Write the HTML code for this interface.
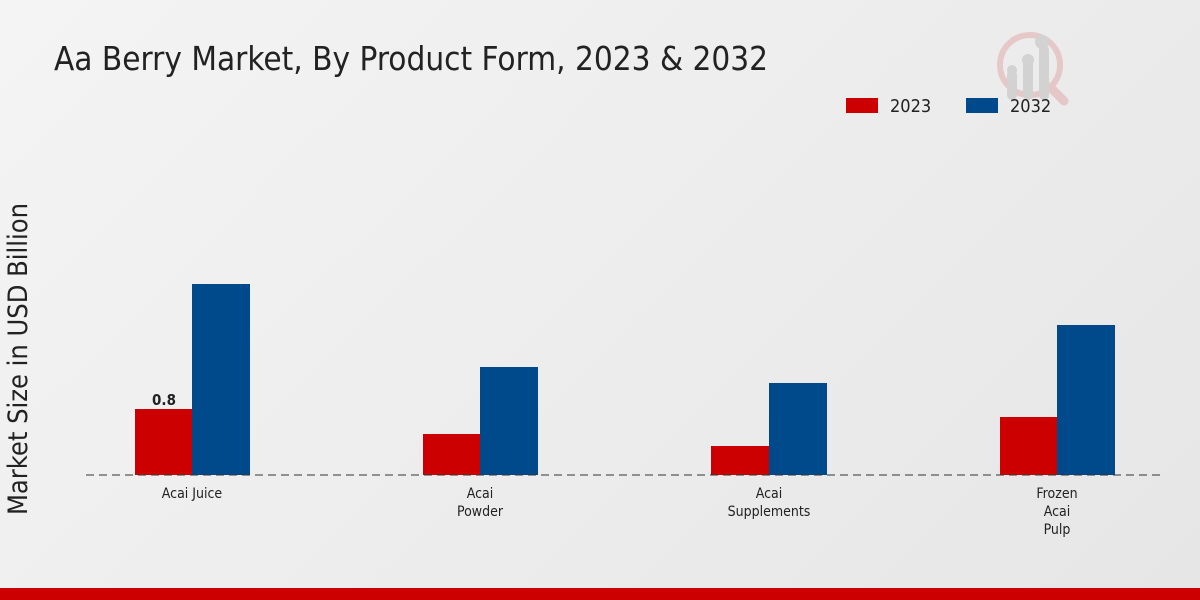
<!DOCTYPE html>
<html><head><meta charset="utf-8"><style>
html,body{margin:0;padding:0;}
body{width:1200px;height:600px;overflow:hidden;background:linear-gradient(135deg,#f4f4f4 0%,#e6e6e6 100%);font-family:"DejaVu Sans Condensed","DejaVu Sans","Liberation Sans",sans-serif;}
</style></head><body>
<svg width="1200" height="600" xmlns="http://www.w3.org/2000/svg" style="position:absolute;left:0;top:0;font-family:'DejaVu Sans Condensed','DejaVu Sans',sans-serif">
<text x="54" y="70" font-size="33" fill="#222">Aa Berry Market, By Product Form, 2023 &amp; 2032</text>
<g opacity="0.5">
<circle cx="1030" cy="65" r="30" fill="none" stroke="#e3a5a5" stroke-width="6"/>
<line x1="1050" y1="87" x2="1064" y2="101" stroke="#e3a5a5" stroke-width="9" stroke-linecap="round"/>
<rect x="1007" y="70" width="10" height="30" rx="5" fill="#bbb"/>
<rect x="1023" y="58" width="10" height="42" rx="5" fill="#bbb"/>
<rect x="1039" y="45" width="10" height="55" rx="5" fill="#bbb"/>
<circle cx="1012" cy="70" r="5" fill="#bbb"/><circle cx="1028" cy="60" r="6" fill="#bbb"/><circle cx="1042" cy="42" r="7" fill="#bbb"/>
</g>
<rect x="846" y="98" width="32" height="15" fill="#cc0000"/>
<text x="890" y="112" font-size="18" fill="#222">2023</text>
<rect x="966" y="98" width="32" height="15" fill="#004a8b"/>
<text x="1010" y="112" font-size="18" fill="#222">2032</text>
<text transform="translate(27,359) rotate(-90)" text-anchor="middle" font-size="27" fill="#222">Market Size in USD Billion</text>
<rect x="135" y="409" width="57" height="66" fill="#cc0000"/>
<rect x="192" y="284" width="58" height="191" fill="#004a8b"/>
<rect x="423" y="434" width="57" height="41" fill="#cc0000"/>
<rect x="480" y="367" width="58" height="108" fill="#004a8b"/>
<rect x="711" y="446" width="58" height="29" fill="#cc0000"/>
<rect x="769" y="383" width="58" height="92" fill="#004a8b"/>
<rect x="1000" y="417" width="57" height="58" fill="#cc0000"/>
<rect x="1057" y="325" width="58" height="150" fill="#004a8b"/>
<line x1="86" y1="475" x2="1165" y2="475" stroke="#333" stroke-width="1" stroke-dasharray="8,5"/>
<text x="164" y="405" text-anchor="middle" font-size="15" font-weight="bold" fill="#222">0.8</text>
<g font-size="14" fill="#222" text-anchor="middle">
<text x="192" y="498">Acai Juice</text>
<text x="480" y="498">Acai</text><text x="480" y="516">Powder</text>
<text x="769" y="498">Acai</text><text x="769" y="516">Supplements</text>
<text x="1057" y="498">Frozen</text><text x="1057" y="516">Acai</text><text x="1057" y="534">Pulp</text>
</g>
<rect x="0" y="588" width="1200" height="12" fill="#cc0000"/>
</svg>
</body></html>
